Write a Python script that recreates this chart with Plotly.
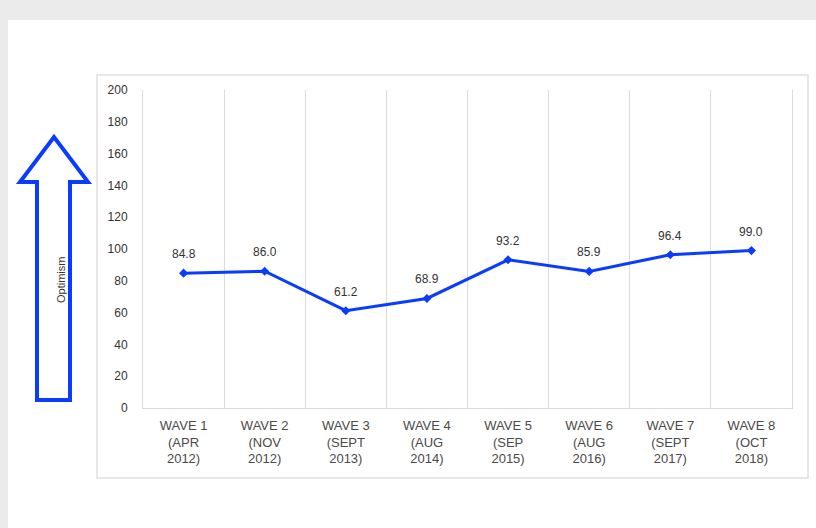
import plotly.graph_objects as go

waves = ["WAVE 1<br>(APR<br>2012)", "WAVE 2<br>(NOV<br>2012)", "WAVE 3<br>(SEPT<br>2013)",
         "WAVE 4<br>(AUG<br>2014)", "WAVE 5<br>(SEP<br>2015)", "WAVE 6<br>(AUG<br>2016)",
         "WAVE 7<br>(SEPT<br>2017)", "WAVE 8<br>(OCT<br>2018)"]
optimism = [84.8, 86.0, 61.2, 68.9, 93.2, 85.9, 96.4, 99.0]
y_ticks = list(range(0, 201, 20))

W, H = 816, 528
L, R, T, B = 143, 24, 90, 120
PW, PH = W - L - R, H - T - B

def px(x):
    return (x - L) / PW

def py(y):
    return (H - B - y) / PH

FONT = "Arial, Liberation Sans, sans-serif"
BLUE = "#0a3cff"

idx = list(range(len(waves)))
fig = go.Figure()
fig.add_trace(go.Scatter(
    x=idx, y=optimism, mode="lines+markers",
    line=dict(color=BLUE, width=3),
    marker=dict(symbol="diamond", size=7, color=BLUE),
    showlegend=False, cliponaxis=False,
))
# invisible trace for the grid axis
fig.add_trace(go.Scatter(x=[-0.5, len(waves) - 0.5], y=[0, 0], xaxis="x2",
                         mode="markers", marker=dict(opacity=0), showlegend=False,
                         hoverinfo="skip"))

for xi, v in zip(idx, optimism):
    fig.add_annotation(x=xi, y=v, text=f"{v:.1f}", showarrow=False, yshift=19,
                       font=dict(family=FONT, size=12, color="#333"))

fig.update_layout(
    width=W, height=H,
    margin=dict(l=L, r=R, t=T, b=B),
    paper_bgcolor="#ebebeb", plot_bgcolor="rgba(0,0,0,0)",
    font=dict(family=FONT, color="#333"),
    xaxis=dict(range=[-0.5, len(waves) - 0.5], tickmode="array", tickvals=idx,
               ticktext=waves, showgrid=False, zeroline=False,
               showline=True, linecolor="#d9d9d9", linewidth=1,
               tickfont=dict(size=13, color="#4a4a4a"), ticks="",
               ticklabelstandoff=5),
    xaxis2=dict(range=[-0.5, len(waves) - 0.5], overlaying="x", tickmode="array",
                tickvals=[i - 0.5 for i in range(len(waves) + 1)],
                showticklabels=False, showgrid=True, gridcolor="#dcdcdc",
                gridwidth=1, zeroline=False),
    yaxis=dict(range=[0, 200], tickmode="array", tickvals=y_ticks,
               showgrid=False, zeroline=False, showline=True, mirror=True,
               linecolor="#dcdcdc", linewidth=1,
               tickfont=dict(size=12, color="#333"), ticks="", ticklabelstandoff=12),
)

shapes = [
    dict(type="rect", xref="paper", yref="paper", layer="below",
         x0=px(8), x1=px(820), y0=py(530), y1=py(20),
         fillcolor="white", line=dict(width=0)),
    dict(type="rect", xref="paper", yref="paper", layer="below",
         x0=px(97), x1=px(808), y0=py(478), y1=py(75),
         fillcolor="white", line=dict(color="#e0e0e0", width=1.5)),
]
arrow_pts = [(37, 400), (37, 182), (20, 182), (54, 137), (88, 182), (70, 182), (70, 400)]
path = "M " + " L ".join(f"{px(x)},{py(y)}" for x, y in arrow_pts) + " Z"
shapes.append(dict(type="path", xref="paper", yref="paper", path=path,
                   fillcolor="white", line=dict(color=BLUE, width=4)))
fig.update_layout(shapes=shapes)

fig.add_annotation(xref="paper", yref="paper", x=px(53), y=py(280), text="Optimism",
                   textangle=-90, showarrow=False,
                   font=dict(size=11, color="#333", family=FONT))

fig.write_html("out.html", config={"displayModeBar": False},
               post_script="document.body.style.margin='0';")
